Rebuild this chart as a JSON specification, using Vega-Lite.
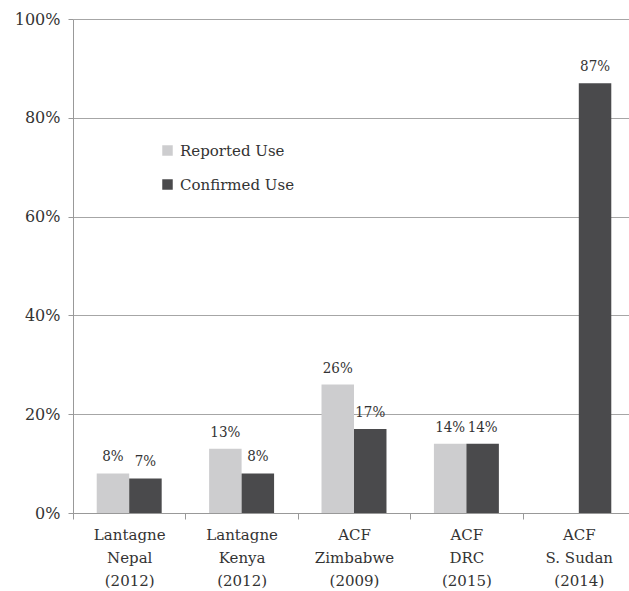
{
  "$schema": "https://vega.github.io/schema/vega-lite/v6.json",
  "autosize": {"type": "none"},
  "padding": {"left": 73, "top": 19, "right": 0, "bottom": 78},
  "width": 562,
  "height": 494,
  "background": "white",
  "data": {
    "values": [
      {"study": "Lantagne|Nepal|(2012)", "series": "Reported Use", "value": 8},
      {"study": "Lantagne|Nepal|(2012)", "series": "Confirmed Use", "value": 7},
      {"study": "Lantagne|Kenya|(2012)", "series": "Reported Use", "value": 13},
      {"study": "Lantagne|Kenya|(2012)", "series": "Confirmed Use", "value": 8},
      {"study": "ACF|Zimbabwe|(2009)", "series": "Reported Use", "value": 26},
      {"study": "ACF|Zimbabwe|(2009)", "series": "Confirmed Use", "value": 17},
      {"study": "ACF|DRC|(2015)", "series": "Reported Use", "value": 14},
      {"study": "ACF|DRC|(2015)", "series": "Confirmed Use", "value": 14},
      {"study": "ACF|S. Sudan|(2014)", "series": "Confirmed Use", "value": 87}
    ]
  },
  "config": {
    "font": "DejaVu Serif",
    "view": {"stroke": null},
    "axis": {
      "labelFont": "DejaVu Serif",
      "labelColor": "#333333",
      "domainColor": "#999999",
      "tickColor": "#999999",
      "gridColor": "#a6a6a6"
    },
    "legend": {"labelFont": "DejaVu Serif"},
    "text": {"font": "DejaVu Serif Condensed"}
  },
  "encoding": {
    "x": {
      "field": "study",
      "type": "nominal",
      "sort": null,
      "scale": {"paddingInner": 0, "paddingOuter": 0},
      "axis": {
        "title": null,
        "labelAngle": 0,
        "labelExpr": "isValid(datum.value) ? split(datum.value, '|') : ''",
        "labelFontSize": 15,
        "labelLineHeight": 23,
        "labelPadding": 8,
        "tickBand": "extent",
        "tickSize": 6,
        "domainColor": "#999999",
        "grid": false
      }
    },
    "xOffset": {
      "field": "series",
      "type": "nominal",
      "sort": ["Reported Use", "Confirmed Use"],
      "scale": {"paddingInner": 0, "paddingOuter": 0.73}
    },
    "y": {
      "field": "value",
      "type": "quantitative",
      "scale": {"domain": [0, 100], "nice": false},
      "axis": {
        "title": null,
        "values": [0, 20, 40, 60, 80, 100],
        "labelExpr": "datum.value + '%'",
        "labelFontSize": 16,
        "labelPadding": 8,
        "tickSize": 5,
        "grid": true,
        "gridWidth": 1
      }
    }
  },
  "layer": [
    {
      "mark": {"type": "bar"},
      "encoding": {
        "color": {
          "field": "series",
          "type": "nominal",
          "sort": ["Reported Use", "Confirmed Use"],
          "scale": {"domain": ["Reported Use", "Confirmed Use"], "range": ["#cdcdcf", "#4a4a4c"]},
          "legend": {
            "title": null,
            "orient": "none",
            "legendX": 87,
            "legendY": 124,
            "symbolType": "square",
            "symbolSize": 110,
            "symbolStrokeWidth": 0,
            "labelFontSize": 15,
            "labelColor": "#333333",
            "rowPadding": 18,
            "labelOffset": 5
          }
        }
      }
    },
    {
      "transform": [{"calculate": "datum.value + '%'", "as": "lbl"}],
      "mark": {"type": "text", "baseline": "alphabetic", "dy": -12, "fontSize": 15, "color": "#333333"},
      "encoding": {
        "text": {"field": "lbl", "type": "nominal"},
        "detail": {"field": "series"}
      }
    }
  ]
}
